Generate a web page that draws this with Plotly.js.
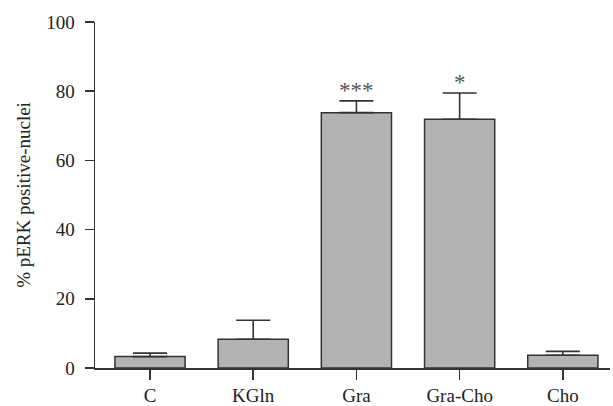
<!DOCTYPE html>
<html><head><meta charset="utf-8">
<script src="https://cdn.plot.ly/plotly-3.0.1.min.js"></script>
<style>html,body{margin:0;padding:0;background:#fff}#chart{width:613px;height:406px}</style>
</head><body><div id="chart"></div>
<script>
const categories = ["C", "KGln", "Gra", "Gra-Cho", "Cho"];
const means = [3.3, 8.3, 73.8, 71.9, 3.7];
const errors = [1.0, 5.5, 3.4, 7.6, 1.1];
const significance = ["", "", "***", "*", ""];
const yTicks = [0, 20, 40, 60, 80, 100];

const trace = {
  type: "bar",
  x: categories.map((c, i) => i),
  y: means,
  width: 0.68,
  marker: {color: "#b3b3b3", line: {color: "#333333", width: 1.5}},
  error_y: {type: "data", array: errors, symmetric: false, arrayminus: errors.map(() => 0),
            color: "#333333", thickness: 1.6, width: 17},
  hoverinfo: "skip"
};

const annotations = significance.map((s, i) => s ? {
  x: i, y: means[i] + errors[i], yref: "y", xref: "x",
  text: s, showarrow: false, yanchor: "bottom", yshift: -4,
  font: {family: "Liberation Serif", size: 23, color: "#555555"}
} : null).filter(a => a);

const layout = {
  width: 613, height: 406,
  margin: {l: 95, r: 3, t: 22, b: 38},
  paper_bgcolor: "#ffffff", plot_bgcolor: "#ffffff",
  showlegend: false,
  font: {family: "Liberation Serif", size: 19, color: "#222222"},
  xaxis: {
    range: [-0.533, 4.457], tickvals: categories.map((c, i) => i), ticktext: categories,
    showgrid: false, zeroline: false, showline: true, linecolor: "#333333", linewidth: 1.5,
    ticks: "outside", ticklen: 10, tickwidth: 1.5, tickcolor: "#333333",
    tickfont: {family: "Liberation Serif", size: 19, color: "#222222"}
  },
  yaxis: {
    range: [0, 100], tickvals: yTicks, showgrid: false, zeroline: false,
    showline: true, linecolor: "#333333", linewidth: 1.5,
    ticks: "outside", ticklen: 9, tickwidth: 1.5, tickcolor: "#333333",
    ticklabelstandoff: 6,
    tickfont: {family: "Liberation Serif", size: 19, color: "#222222"},
    title: {text: "% pERK positive-nuclei", standoff: 10,
            font: {family: "Liberation Serif", size: 19, color: "#222222"}}
  },
  annotations: annotations
};

Plotly.newPlot("chart", [trace], layout, {staticPlot: true, displayModeBar: false});
</script></body></html>
